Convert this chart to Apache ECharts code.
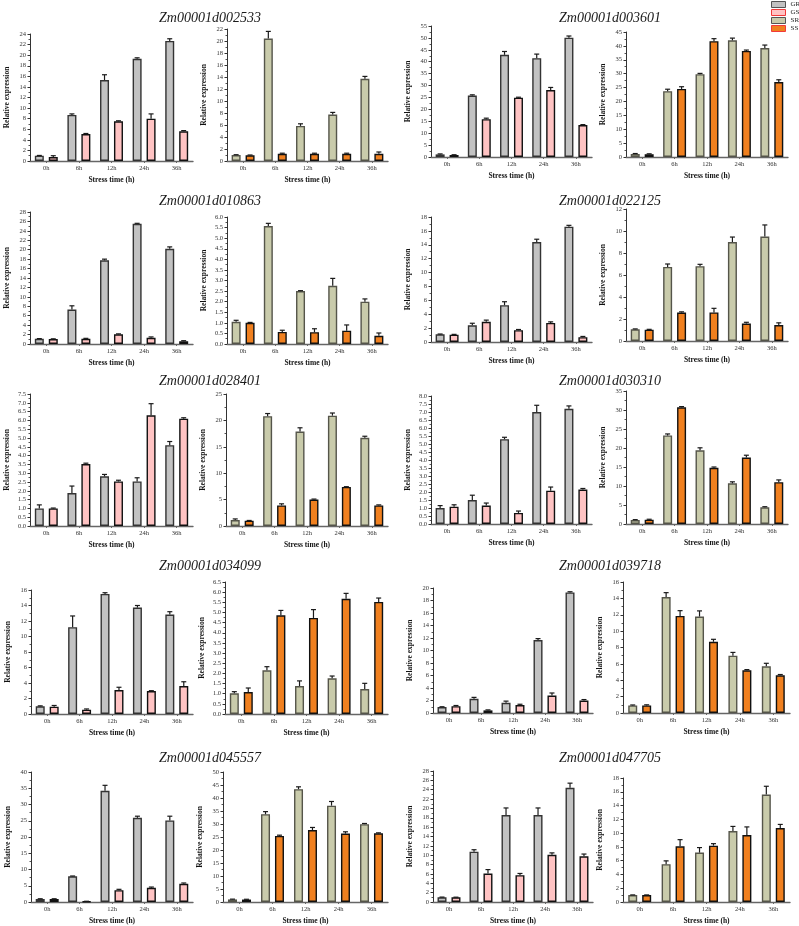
<!DOCTYPE html>
<html>
<head>
<meta charset="utf-8">
<script src="https://cdn.jsdelivr.net/npm/echarts@6/dist/echarts.min.js"></script>
<style>html,body{margin:0;padding:0;background:#fff}#c{width:799px;height:926px}</style>
</head>
<body>
<div id="c"></div>
<script>
// ---------------- DATA ----------------
const categories = ['0h', '6h', '12h', '24h', '36h'];
const genes = ['Zm00001d002533', 'Zm00001d003601', 'Zm00001d010863', 'Zm00001d022125', 'Zm00001d028401',
               'Zm00001d030310', 'Zm00001d034099', 'Zm00001d039718', 'Zm00001d045557', 'Zm00001d047705'];
const seriesNames = ['GR', 'GS', 'SR', 'SS'];

// GR (left panel, grey)
const GR_mean = [
  [1.0, 8.7, 15.3, 19.3, 22.7], [1.1, 25.8, 42.9, 41.5, 50.1], [1.1, 7.3, 17.75, 25.5, 20.2],
  [1.1, 2.4, 5.3, 14.4, 16.6], [1.0, 1.87, 2.82, 2.53, 4.59], [1.0, 1.5, 5.3, 7.0, 7.2],
  [1.0, 11.2, 15.5, 13.73, 12.83], [0.95, 2.28, 1.64, 11.67, 19.3], [0.9, 7.9, 34.2, 25.9, 25.1],
  [1.0, 10.75, 18.6, 18.6, 24.4]];
const GR_sd = [
  [0.05, 0.2, 1.0, 0.2, 0.4], [0.2, 0.3, 1.4, 1.7, 0.7], [0.05, 0.8, 0.25, 0.1, 0.4],
  [0.05, 0.3, 0.5, 0.4, 0.2], [0.2, 0.4, 0.11, 0.21, 0.21], [0.15, 0.3, 0.12, 0.42, 0.18],
  [0.05, 1.45, 0.15, 0.27, 0.37], [0.05, 0.22, 0.26, 0.23, 0.1], [0.1, 0.1, 1.7, 0.5, 1.3],
  [0.05, 0.42, 1.5, 1.5, 1.0]];
// GS (left panel, pink)
const GS_mean = [
  [0.75, 5.1, 7.5, 8.0, 5.6], [0.85, 15.9, 24.9, 28.1, 13.4], [1.05, 1.1, 2.05, 1.3, 0.6],
  [1.05, 2.9, 1.7, 2.75, 0.7], [1.0, 3.52, 2.53, 6.29, 6.1], [1.08, 1.15, 0.69, 2.08, 2.15],
  [0.95, 0.56, 3.1, 2.96, 3.6], [1.1, 0.42, 1.27, 2.8, 2.0], [0.9, 0.2, 3.65, 4.35, 5.6],
  [1.0, 6.08, 5.73, 10.1, 9.76]];
const GS_sd = [
  [0.25, 0.1, 0.1, 0.9, 0.15], [0.1, 0.4, 0.2, 1.1, 0.2], [0.05, 0.1, 0.1, 0.2, 0.1],
  [0.05, 0.25, 0.1, 0.15, 0.1], [0.02, 0.05, 0.07, 0.66, 0.05], [0.12, 0.16, 0.12, 0.23, 0.07],
  [0.15, 0.09, 0.35, 0.05, 0.56], [0.1, 0.08, 0.13, 0.4, 0.15], [0.1, 0.03, 0.25, 0.25, 0.25],
  [0.03, 0.85, 0.37, 0.4, 0.49]];
// SR (right panel, khaki)
const SR_mean = [
  [1.0, 20.4, 5.85, 7.75, 13.7], [1.1, 23.7, 29.8, 42.0, 39.2], [1.05, 5.57, 2.5, 2.75, 2.0],
  [1.07, 6.73, 6.8, 9.0, 9.5], [1.14, 20.8, 17.9, 20.9, 16.7], [1.05, 23.3, 19.4, 10.7, 4.4],
  [1.02, 2.15, 1.38, 1.76, 1.23], [0.93, 14.17, 11.78, 7.0, 5.7], [1.0, 33.76, 43.4, 37.06, 29.95],
  [1.0, 5.49, 7.17, 10.3, 15.6]];
const SR_sd = [
  [0.05, 1.2, 0.35, 0.35, 0.4], [0.15, 0.7, 0.3, 0.8, 1.1], [0.07, 0.13, 0.02, 0.35, 0.13],
  [0.03, 0.27, 0.17, 0.45, 1.05], [0.2, 0.5, 0.7, 0.5, 0.3], [0.1, 0.4, 0.65, 0.4, 0.15],
  [0.08, 0.18, 0.25, 0.11, 0.28], [0.05, 0.53, 0.69, 0.4, 0.37], [0.1, 1.0, 0.9, 1.6, 0.25],
  [0.03, 0.48, 0.73, 0.67, 1.2]];
// SS (right panel, orange)
const SS_mean = [
  [0.95, 1.2, 1.2, 1.2, 1.2], [1.0, 24.5, 41.7, 38.2, 27.0], [1.0, 0.57, 0.56, 0.63, 0.39],
  [1.03, 2.58, 2.6, 1.58, 1.45], [1.0, 3.9, 5.0, 7.4, 3.9], [1.15, 30.7, 14.8, 17.5, 11.0],
  [1.08, 4.86, 4.73, 5.67, 5.52], [0.93, 11.86, 8.7, 5.22, 4.6], [0.95, 25.4, 27.67, 26.3, 26.4],
  [1.0, 8.08, 8.18, 9.72, 10.73]];
const SS_sd = [
  [0.05, 0.1, 0.1, 0.1, 0.3], [0.15, 0.8, 0.9, 0.3, 0.8], [0.02, 0.08, 0.16, 0.27, 0.13],
  [0.03, 0.07, 0.37, 0.12, 0.2], [0.05, 0.3, 0.1, 0.05, 0.1], [0.1, 0.2, 0.2, 0.6, 0.6],
  [0.2, 0.24, 0.41, 0.27, 0.19], [0.07, 0.64, 0.3, 0.08, 0.1], [0.1, 0.3, 1.0, 0.7, 0.2],
  [0.03, 0.97, 0.29, 1.18, 0.53]];

// y-axis tick ranges
const leftMax   = [24, 55, 28, 18, 7.5, 8.0, 16, 20, 40, 28];
const leftStep  = [2, 5, 2, 2, 0.5, 0.5, 2, 2, 5, 2];
const rightMax  = [22, 45, 6.0, 12, 25, 35, 6.5, 16, 50, 18];
const rightStep = [2, 5, 0.5, 2, 5, 5, 0.5, 2, 5, 2];

// ---------------- LAYOUT / STYLE ----------------
// [xLeft, yTop, xRight, yBottom] of each plot area (gene i: 2i = left panel, 2i+1 = right panel)
const BOX = [
  [30, 34, 193, 161], [227, 29, 388, 161], [431, 26, 592, 157], [626, 32, 788, 157],
  [30, 212, 193, 344], [227, 217, 388, 344], [431, 217, 592, 342], [626, 209, 788, 341],
  [30, 394, 193, 526], [226, 394, 388, 526], [431, 396, 592, 524], [626, 391, 788, 524],
  [31, 590, 193, 714], [225, 582, 388, 714], [433, 588, 593, 713], [623, 582, 790, 713],
  [31, 772, 193, 903], [223, 772, 388, 903], [433, 771, 593, 903], [623, 778, 790, 903]];
const TITLE_X = [205, 605];
const TITLE_Y = [6, 189, 369, 554, 746];

const FILL = {GR: '#c2c2c2', GS: '#ffc3c3', SR: '#c9cbab', SS: '#f0801f'};
const EDGE = {GR: '#333', GS: '#111', SR: '#55554a', SS: '#111'};
const LEG_EDGE = {GR: '#555', GS: '#f23a3a', SR: '#555', SS: '#f23a3a'};
const BAR_W = 9, GAP_FR = 0.55;
const SERIF = '"Liberation Serif","Times New Roman",serif';
const AX = '#333';

const grids = [], xAxes = [], yAxes = [], series = [], titles = [];

function errRender(side) {
  return function (params, api) {
    const x = api.value(0), m = api.value(1), e = api.value(2);
    const off = side * (BAR_W + BAR_W * GAP_FR) / 2;
    const p0 = api.coord([x, m]);
    const p1 = api.coord([x, m + e]);
    const cx = p0[0] + off;
    const st = {stroke: '#1a1a1a', lineWidth: 1.2};
    return {type: 'group', children: [
      {type: 'line', shape: {x1: cx, y1: p0[1], x2: cx, y2: p1[1]}, style: st},
      {type: 'line', shape: {x1: cx - 2.5, y1: p1[1], x2: cx + 2.5, y2: p1[1]}, style: st}
    ]};
  };
}

genes.forEach((g, gi) => {
  const row = Math.floor(gi / 2), col = gi % 2;
  titles.push({
    text: g, left: TITLE_X[col], top: TITLE_Y[row], textAlign: 'center',
    textStyle: {fontFamily: SERIF, fontStyle: 'italic', fontWeight: 'normal', fontSize: 14, color: '#1a1a1a'}
  });
  const panels = [
    {max: leftMax[gi], step: leftStep[gi], names: ['GR', 'GS'], means: [GR_mean[gi], GS_mean[gi]], sds: [GR_sd[gi], GS_sd[gi]]},
    {max: rightMax[gi], step: rightStep[gi], names: ['SR', 'SS'], means: [SR_mean[gi], SS_mean[gi]], sds: [SR_sd[gi], SS_sd[gi]]}
  ];
  panels.forEach((p, pi) => {
    const idx = gi * 2 + pi;
    const b = BOX[idx];
    grids.push({left: b[0], top: b[1], width: b[2] - b[0], height: b[3] - b[1], containLabel: false});
    const dec = p.step < 1 ? 1 : 0;
    xAxes.push({
      type: 'category', gridIndex: idx, data: categories,
      name: 'Stress time (h)', nameLocation: 'middle', nameGap: 15,
      nameTextStyle: {fontFamily: SERIF, fontWeight: 'bold', fontSize: 7.5, color: '#111'},
      axisLine: {lineStyle: {color: '#666', width: 1.4}},
      axisTick: {show: true, alignWithLabel: true, length: 2, lineStyle: {color: '#666'}},
      axisLabel: {fontFamily: SERIF, fontSize: 6.5, color: '#333', margin: 4}
    });
    yAxes.push({
      type: 'value', gridIndex: idx, min: 0, max: p.max, interval: p.step,
      name: 'Relative expression', nameLocation: 'middle', nameGap: 19,
      nameTextStyle: {fontFamily: SERIF, fontWeight: 'bold', fontSize: 7.5, color: '#111'},
      axisLine: {show: true, lineStyle: {color: AX, width: 1}},
      axisTick: {show: true, length: 2.5, lineStyle: {color: AX}},
      minorTick: {show: true, splitNumber: 2, length: 1.5, lineStyle: {color: '#555'}},
      splitLine: {show: false},
      axisLabel: {fontFamily: SERIF, fontSize: 6.5, color: '#333', margin: 4,
        formatter: v => v.toFixed(dec)}
    });
    p.names.forEach((nm, si) => {
      series.push({
        type: 'bar', name: nm, xAxisIndex: idx, yAxisIndex: idx,
        data: p.means[si], barWidth: BAR_W, barGap: (GAP_FR * 100) + '%',
        itemStyle: {color: FILL[nm], borderColor: EDGE[nm], borderWidth: 1.4},
        emphasis: {disabled: true}, animation: false, z: 2
      });
    });
    p.names.forEach((nm, si) => {
      series.push({
        type: 'custom', name: nm + ' error', xAxisIndex: idx, yAxisIndex: idx,
        renderItem: errRender(si === 0 ? -1 : 1),
        data: categories.map((c, k) => [k, p.means[si][k], p.sds[si][k]]),
        encode: {x: 0, y: 1}, z: 3, animation: false, silent: true
      });
    });
  });
});

const chart = echarts.init(document.getElementById('c'), null, {renderer: 'canvas'});
chart.setOption({
  backgroundColor: '#fff',
  animation: false,
  title: titles,
  legend: {
    orient: 'vertical', left: 771, top: 1, padding: 0, itemGap: 1,
    itemWidth: 14, itemHeight: 6, icon: 'rect',
    textStyle: {fontFamily: SERIF, fontSize: 7, color: '#222', lineHeight: 6},
    data: seriesNames.map(n => ({name: n, itemStyle: {color: FILL[n], borderColor: LEG_EDGE[n], borderWidth: 1}}))
  },
  grid: grids, xAxis: xAxes, yAxis: yAxes, series: series
});
</script>
</body>
</html>
